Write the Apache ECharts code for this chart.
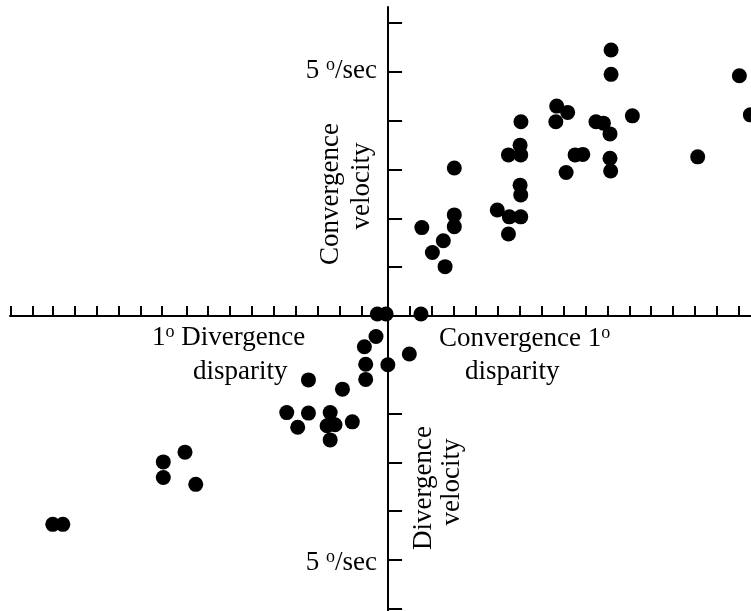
<!DOCTYPE html>
<html>
<head>
<meta charset="utf-8">
<script src="https://cdn.jsdelivr.net/npm/echarts@6/dist/echarts.min.js"></script>
<style>
  html, body { margin: 0; padding: 0; background: #fff; }
  #chart { width: 751px; height: 611px; }
</style>
</head>
<body>
<div id="chart"></div>
<script>
// disparity in degrees (negative = divergence), velocity in deg/sec
var disparity = [0.606, 0.602, 0.549, 0.605, 0.302, 0.602, 0.605, 0.498, 0.553, 0.605,
  0.549, 0.302, 0.302, 0.154, 0.252, 0.202, 0.260, 1.017, 1.017, 1.602,
  0.769, 0.819, 0.765, 0.948, 0.982, 1.012, 1.114, 1.652, 0.853, 0.888,
  1.012, 1.015, 0.812, 1.412, -0.049, -0.009, 0.150, -0.055, -0.108, 0.097,
  -0.102, -0.001, -0.102, -0.363, -0.208, -0.462, -0.363, -0.412, -0.264, -0.278,
  -0.242, -0.264, -0.163, -0.926, -1.025, -1.025, -0.877, -1.529, -1.483];
var velocity = [3.98, 3.50, 3.30, 3.30, 3.03, 2.68, 2.48, 2.17, 2.03, 2.03,
  1.68, 2.07, 1.83, 1.81, 1.54, 1.30, 1.01, 5.45, 4.95, 4.92,
  4.30, 4.17, 3.98, 3.98, 3.95, 3.73, 4.10, 4.12, 3.30, 3.31,
  3.23, 2.97, 2.94, 3.26, 0.04, 0.04, 0.04, -0.42, -0.63, -0.78,
  -0.99, -1.00, -1.30, -1.31, -1.50, -1.98, -1.99, -2.28, -1.98, -2.25,
  -2.23, -2.54, -2.17, -2.79, -2.99, -3.31, -3.45, -4.27, -4.27];

// tick marks on the disparity axis (deg) and velocity axis (deg/sec)
var xTicks = [-1.72, -1.62, -1.53, -1.43, -1.33, -1.23, -1.13, -1.03, -0.92, -0.82,
  -0.72, -0.62, -0.52, -0.42, -0.32, -0.22, -0.12,
  0.1, 0.2, 0.3, 0.4, 0.5, 0.6, 0.7, 0.8, 0.9, 1.0, 1.1, 1.2, 1.3, 1.4, 1.5, 1.6];
var yTicks = [1, 2, 3, 4, 5, 6, -2, -3, -4, -5, -6];

var FONT = "'Liberation Serif', 'DejaVu Serif', serif";
var supStyle = { fontSize: 18, fontFamily: FONT, color: '#000', verticalAlign: 'top', lineHeight: 30 };

var points = disparity.map(function (d, i) { return [d, velocity[i]]; });

function label(txt, x, y, rot, align) {
  return {
    type: 'text',
    x: x,
    y: y,
    rotation: rot || 0,
    style: {
      text: txt,
      fill: '#000',
      font: '27px ' + FONT,
      lineHeight: 30,
      align: align || 'left',
      verticalAlign: 'middle',
      rich: { sup: supStyle }
    }
  };
}

var chart = echarts.init(document.getElementById('chart'));
chart.setOption({
  animation: false,
  backgroundColor: '#fff',
  grid: { left: 10, right: 0, top: 7, bottom: 0, outerBoundsMode: 'none' },
  xAxis: {
    type: 'value',
    min: -1.724,
    max: 1.655,
    axisLine: { onZero: true, lineStyle: { color: '#000', width: 2 } },
    axisTick: { inside: true, length: 10, customValues: xTicks, lineStyle: { color: '#000', width: 2 } },
    axisLabel: { show: false },
    splitLine: { show: false }
  },
  yAxis: {
    type: 'value',
    min: -6.045,
    max: 6.33,
    axisLine: { onZero: true, lineStyle: { color: '#000', width: 2 } },
    axisTick: { inside: true, length: 14, customValues: yTicks, lineStyle: { color: '#000', width: 2 } },
    axisLabel: { show: false },
    splitLine: { show: false }
  },
  graphic: [
    label('5 {sup|o}/sec', 377, 71, 0, 'right'),
    label('5 {sup|o}/sec', 377, 563, 0, 'right'),
    label('1{sup|o} Divergence', 152, 338),
    label('disparity', 193, 372),
    label('Convergence 1{sup|o}', 439, 339),
    label('disparity', 465, 372),
    label('Convergence', 331, 194, Math.PI / 2, 'center'),
    label('velocity', 362, 186, Math.PI / 2, 'center'),
    label('Divergence', 424, 488, Math.PI / 2, 'center'),
    label('velocity', 452, 482, Math.PI / 2, 'center')
  ],
  series: [{
    type: 'scatter',
    data: points,
    symbol: 'circle',
    symbolSize: 15,
    itemStyle: { color: '#000', opacity: 1 },
    clip: true
  }]
});
</script>
</body>
</html>
